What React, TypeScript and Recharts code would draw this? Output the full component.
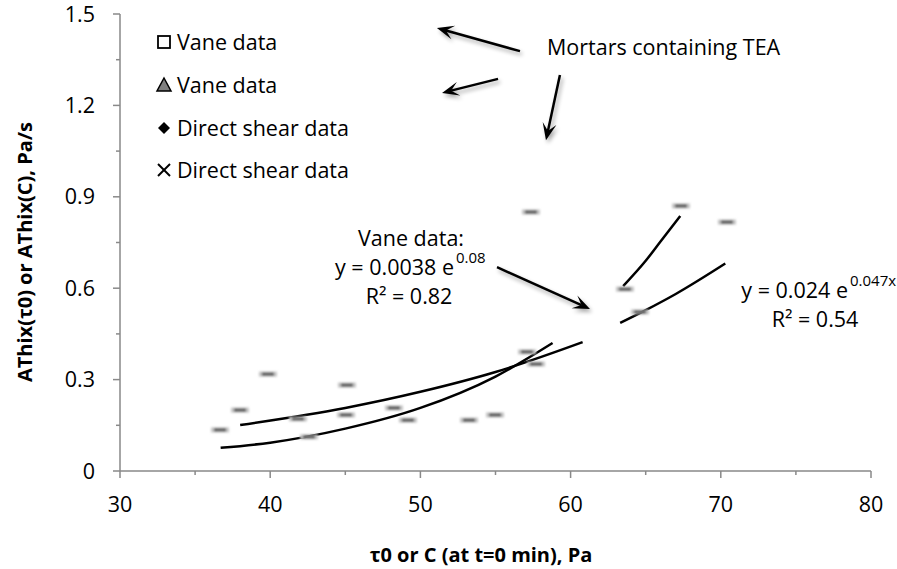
import {
  ComposedChart,
  Customized,
  Line,
  ReferenceLine,
  Scatter,
  XAxis,
  YAxis,
} from "recharts";

// measured points (x = tau0 or C in Pa, y = AThix in Pa/s)
const vaneSquare = [
  { x: 36.66, y: 0.135 },
  { x: 39.85, y: 0.318 },
  { x: 42.58, y: 0.112 },
  { x: 45.05, y: 0.184 },
  { x: 49.17, y: 0.167 },
  { x: 53.24, y: 0.167 },
  { x: 57.1, y: 0.391 },
];
const vaneTriangle = [
  { x: 57.36, y: 0.85 },
  { x: 63.62, y: 0.597 },
  { x: 67.35, y: 0.87 },
];
const shearDiamond = [
  { x: 37.99, y: 0.2 },
  { x: 41.85, y: 0.171 },
  { x: 45.11, y: 0.282 },
  { x: 48.24, y: 0.207 },
  { x: 54.97, y: 0.184 },
  { x: 57.7, y: 0.351 },
];
const shearCross = [
  { x: 64.62, y: 0.522 },
  { x: 70.41, y: 0.817 },
];

// trendlines
const vaneTrend = [
  { x: 36.7, y: 0.076 },
  { x: 40, y: 0.093 },
  { x: 45, y: 0.139 },
  { x: 50, y: 0.207 },
  { x: 55, y: 0.31 },
  { x: 58.8, y: 0.42 },
];
const shearTrend = [
  { x: 38, y: 0.151 },
  { x: 45, y: 0.207 },
  { x: 50, y: 0.26 },
  { x: 55, y: 0.325 },
  { x: 60.8, y: 0.423 },
];
const teaVaneTrend = [
  { x: 63.5, y: 0.607 },
  { x: 65, y: 0.69 },
  { x: 66, y: 0.754 },
  { x: 67.3, y: 0.837 },
];
const teaShearTrend = [
  { x: 63.3, y: 0.486 },
  { x: 65, y: 0.528 },
  { x: 67, y: 0.581 },
  { x: 70.3, y: 0.681 },
];

const xTicks = [30, 35, 40, 45, 50, 55, 60, 65, 70, 75, 80];
const xLabels = [30, 40, 50, 60, 70, 80];
const yTicks = [0, 0.15, 0.3, 0.45, 0.6, 0.75, 0.9, 1.05, 1.2, 1.35, 1.5];
const yMajor = [0, 0.3, 0.6, 0.9, 1.2, 1.5];
const yLabels = ["0", "0.3", "0.6", "0.9", "1.2", "1.5"];

const legendNames = ["Vane data", "Vane data", "Direct shear data", "Direct shear data"];

// annotation arrows, [tail, head] in data units
const arrows = [
  [{ x: 56.63, y: 1.378 }, { x: 51.1, y: 1.454 }],
  [{ x: 55.17, y: 1.287 }, { x: 51.44, y: 1.241 }],
  [{ x: 59.29, y: 1.3 }, { x: 58.36, y: 1.086 }],
  [{ x: 55.1, y: 0.669 }, { x: 61.29, y: 0.532 }],
];

const FONT = "'Open Sans', sans-serif";
const AXIS = "#898989";
const FS = 21.5;

const XTick = ({ x, y, payload }: any) => {
  const major = xLabels.some((v) => Math.abs(v - payload.value) < 1e-6);
  return (
    <g>
      <line x1={x} x2={x} y1={y} y2={y + (major ? 7 : 4)} stroke={AXIS} strokeWidth={1.5} />
      {major && (
        <text x={x} y={y + 33} dy="0.35em" textAnchor="middle" fontSize={FS} fontFamily={FONT} fill="#000">
          {payload.value}
        </text>
      )}
    </g>
  );
};

const YTick = ({ x, y, payload }: any) => {
  const idx = yMajor.findIndex((v) => Math.abs(v - payload.value) < 1e-6);
  const major = idx >= 0;
  return (
    <g>
      <line x1={x - (major ? 7 : 4)} x2={x} y1={y} y2={y} stroke={AXIS} strokeWidth={1.5} />
      {major && (
        <text x={x - 25} y={y} dy="0.35em" textAnchor="end" fontSize={FS} fontFamily={FONT} fill="#000">
          {yLabels[idx]}
        </text>
      )}
    </g>
  );
};

const Dash = ({ cx, cy }: any) => {
  if (cx == null || cy == null) return null;
  return (
    <g filter="url(#soft)">
      <rect x={cx - 9} y={cy - 2.5} width={18} height={5} fill="#c4c4c4" />
      <rect x={cx - 6} y={cy - 1.5} width={12} height={3} fill="#555" />
    </g>
  );
};

const Arrow = ({ x1, y1, x2, y2 }: any) => {
  const a = Math.atan2(y2 - y1, x2 - x1);
  const L = 17;
  const W = 7;
  const bx = x2 - L * Math.cos(a);
  const by = y2 - L * Math.sin(a);
  const nx = x2 - L * 0.55 * Math.cos(a);
  const ny = y2 - L * 0.55 * Math.sin(a);
  const px = -Math.sin(a) * W;
  const py = Math.cos(a) * W;
  const head = `${x2},${y2} ${bx + px},${by + py} ${nx},${ny} ${bx - px},${by - py}`;
  return (
    <g>
      <g opacity={0.35} filter="url(#shadow)" transform="translate(2,3)">
        <line x1={x1} y1={y1} x2={nx} y2={ny} stroke="#000" strokeWidth={2.5} />
        <polygon points={head} fill="#000" />
      </g>
      <line x1={x1} y1={y1} x2={nx} y2={ny} stroke="#000" strokeWidth={2.5} />
      <polygon points={head} fill="#000" />
    </g>
  );
};

const legendIcon = (i: number, cx: number, cy: number) => {
  if (i === 0) return <rect x={cx - 6} y={cy - 6} width={12} height={12} fill="#fff" stroke="#000" strokeWidth={1.8} />;
  if (i === 1)
    return (
      <polygon
        points={`${cx},${cy - 7} ${cx + 7},${cy + 6} ${cx - 7},${cy + 6}`}
        fill="#808080"
        stroke="#000"
        strokeWidth={1.5}
      />
    );
  if (i === 2) return <polygon points={`${cx},${cy - 6} ${cx + 6},${cy} ${cx},${cy + 6} ${cx - 6},${cy}`} fill="#000" />;
  return (
    <g stroke="#000" strokeWidth={2}>
      <line x1={cx - 6} y1={cy - 6} x2={cx + 6} y2={cy + 6} />
      <line x1={cx - 6} y1={cy + 6} x2={cx + 6} y2={cy - 6} />
    </g>
  );
};

const Overlay = () => {
  const rows = [42, 85, 128, 170];
  const t = { fontFamily: FONT, fontSize: FS, fill: "#000" };
  return (
    <g>
      <defs>
        <filter id="soft" x="-50%" y="-100%" width="200%" height="300%">
          <feGaussianBlur stdDeviation="1" />
        </filter>
        <filter id="shadow" x="-50%" y="-50%" width="200%" height="200%">
          <feGaussianBlur stdDeviation="2" />
        </filter>
        <clipPath id="vaneClip">
          <rect x={300} y={200} width={186} height={120} />
        </clipPath>
      </defs>
      {legendNames.map((name, i) => (
        <g key={i}>
          {legendIcon(i, 164, rows[i])}
          <text x={177} y={rows[i]} dy="0.35em" {...t}>
            {name}
          </text>
        </g>
      ))}
      <text x={547} y={47} dy="0.35em" {...t}>
        Mortars containing TEA
      </text>
      <g clipPath="url(#vaneClip)">
        <text x={411} y={238} dy="0.35em" textAnchor="middle" {...t}>
          Vane data:
        </text>
        <text x={454} y={267} dy="0.35em" textAnchor="end" {...t}>
          y = 0.0038 e
        </text>
        <text x={456} y={258} dy="0.35em" {...t} fontSize={15}>
          0.08
        </text>
        <text x={409} y={296} dy="0.35em" textAnchor="middle" {...t}>
          R² = 0.82
        </text>
      </g>
      <text x={848} y={290} dy="0.35em" textAnchor="end" {...t}>
        y = 0.024 e
      </text>
      <text x={850} y={281} dy="0.35em" {...t} fontSize={15}>
        0.047x
      </text>
      <text x={815} y={319} dy="0.35em" textAnchor="middle" {...t}>
        R² = 0.54
      </text>
      <text x={481} y={555} dy="0.35em" textAnchor="middle" fontFamily={FONT} fontSize={20} fontWeight="bold">
        τ0 or C (at t=0 min), Pa
      </text>
      <text
        x={25}
        y={252}
        dy="0.35em"
        textAnchor="middle"
        fontFamily={FONT}
        fontSize={20}
        fontWeight="bold"
        transform="rotate(-90 25 252)"
      >
        AThix(τ0) or AThix(C), Pa/s
      </text>
    </g>
  );
};

export default function App() {
  return (
    <div style={{ position: "absolute", left: 0, top: 0, background: "#fff" }}>
      <ComposedChart width={897} height={569} margin={{ top: 14, right: 26, bottom: 0, left: 0 }}>
        <XAxis
          type="number"
          dataKey="x"
          domain={[30, 80]}
          ticks={xTicks}
          interval={0}
          height={98}
          tickSize={0}
          tickMargin={0}
          tick={<XTick />}
          axisLine={{ stroke: AXIS, strokeWidth: 1.5 }}
          allowDataOverflow
        />
        <YAxis
          type="number"
          dataKey="y"
          domain={[0, 1.5]}
          ticks={yTicks}
          interval={0}
          width={120}
          tickSize={0}
          tickMargin={0}
          tick={<YTick />}
          axisLine={{ stroke: AXIS, strokeWidth: 1.5 }}
          allowDataOverflow
        />
        <Line data={vaneTrend} dataKey="y" type="monotone" stroke="#000" strokeWidth={2.5} dot={false} isAnimationActive={false} />
        <Line data={shearTrend} dataKey="y" type="monotone" stroke="#000" strokeWidth={2.5} dot={false} isAnimationActive={false} />
        <Line data={teaVaneTrend} dataKey="y" type="monotone" stroke="#000" strokeWidth={2.5} dot={false} isAnimationActive={false} />
        <Line data={teaShearTrend} dataKey="y" type="monotone" stroke="#000" strokeWidth={2.5} dot={false} isAnimationActive={false} />
        <Scatter data={vaneSquare} dataKey="y" name="Vane data" shape={<Dash />} isAnimationActive={false} />
        <Scatter data={vaneTriangle} dataKey="y" name="Vane data" shape={<Dash />} isAnimationActive={false} />
        <Scatter data={shearDiamond} dataKey="y" name="Direct shear data" shape={<Dash />} isAnimationActive={false} />
        <Scatter data={shearCross} dataKey="y" name="Direct shear data" shape={<Dash />} isAnimationActive={false} />
        {arrows.map((seg, i) => (
          <ReferenceLine key={i} segment={seg} shape={<Arrow />} stroke="#000" ifOverflow="visible" />
        ))}
        <Customized component={<Overlay />} />
      </ComposedChart>
    </div>
  );
}
